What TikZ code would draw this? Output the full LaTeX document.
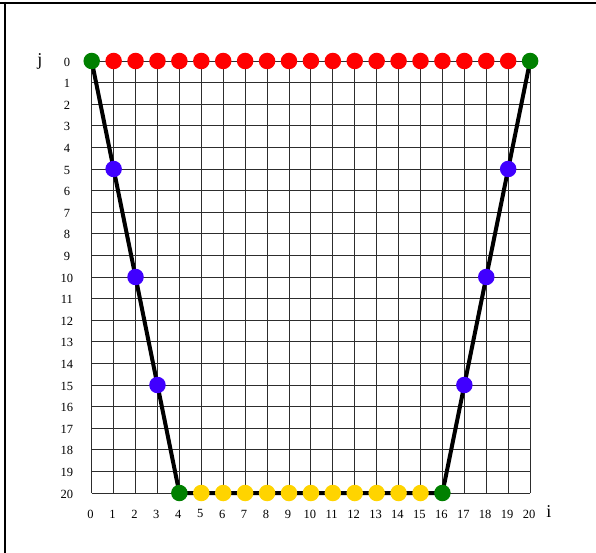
\documentclass[tikz,border=0pt]{standalone}
\usepackage{fontspec}
\setmainfont{Liberation Serif}
\usetikzlibrary{backgrounds}
\definecolor{dgreen}{RGB}{0,128,0}
\definecolor{dred}{RGB}{255,0,0}
\definecolor{dyellow}{RGB}{255,212,0}
\definecolor{dblue}{RGB}{64,0,255}
\definecolor{gridgray}{RGB}{45,45,45}
\begin{document}
\begin{tikzpicture}[x=1pt,y=-1pt,
  dot/.style={circle,inner sep=0pt,minimum size=16.5pt,draw=none},
  gridline/.style={draw=gridgray,line width=0.9pt},
  boldline/.style={draw=black,line width=4pt},
  frameline/.style={draw=black,line width=2pt},
  numlabel/.style={font=\fontsize{12.5}{14}\selectfont,inner sep=0pt},
  axislabel/.style={font=\fontsize{18}{20}\selectfont,inner sep=0pt}]
\useasboundingbox (0,0) rectangle (596,553);
\draw[frameline] (0,3) -- (596,3);
\draw[frameline] (5,2) -- (5,553);
\begin{scope}[shift={(91.7,61)},x=21.92pt,y=-21.6pt]
  % dots
  \node[dot,fill=dgreen] (g1) at (0,0) {};
  \node[dot,fill=dgreen] (g2) at (20,0) {};
  \node[dot,fill=dgreen] (g3) at (4,20) {};
  \node[dot,fill=dgreen] (g4) at (16,20) {};
  \foreach \k in {1,...,19} \node[dot,fill=dred] (r\k) at (\k,0) {};
  \foreach \k in {5,...,15} \node[dot,fill=dyellow] (y\k) at (\k,20) {};
  \node[dot,fill=dblue] (bl1) at (1,5) {};
  \node[dot,fill=dblue] (bl2) at (2,10) {};
  \node[dot,fill=dblue] (bl3) at (3,15) {};
  \node[dot,fill=dblue] (br1) at (19,5) {};
  \node[dot,fill=dblue] (br2) at (18,10) {};
  \node[dot,fill=dblue] (br3) at (17,15) {};
  \begin{pgfonlayer}{background}
    \foreach \k in {0,...,20} {
      \draw[gridline] (\k,0) -- (\k,20);
      \draw[gridline] (0,\k) -- (20,\k);
    }
    \draw[boldline,line join=round] (g1.center) -- (g3.center) -- (g4.center) -- (g2.center);
  \end{pgfonlayer}
  % labels
  \foreach \k in {0,...,20} {
    \node[numlabel] (jl\k) at (-1.13,\k+0.05) {\k};
    \node[numlabel] (il\k) at (\k-0.05,20.97) {\k};
  }
  \node[axislabel] (jax) at (-2.36,0.02) {j};
  \node[axislabel] (iax) at (20.86,20.88) {i};
\end{scope}
\end{tikzpicture}
\end{document}
